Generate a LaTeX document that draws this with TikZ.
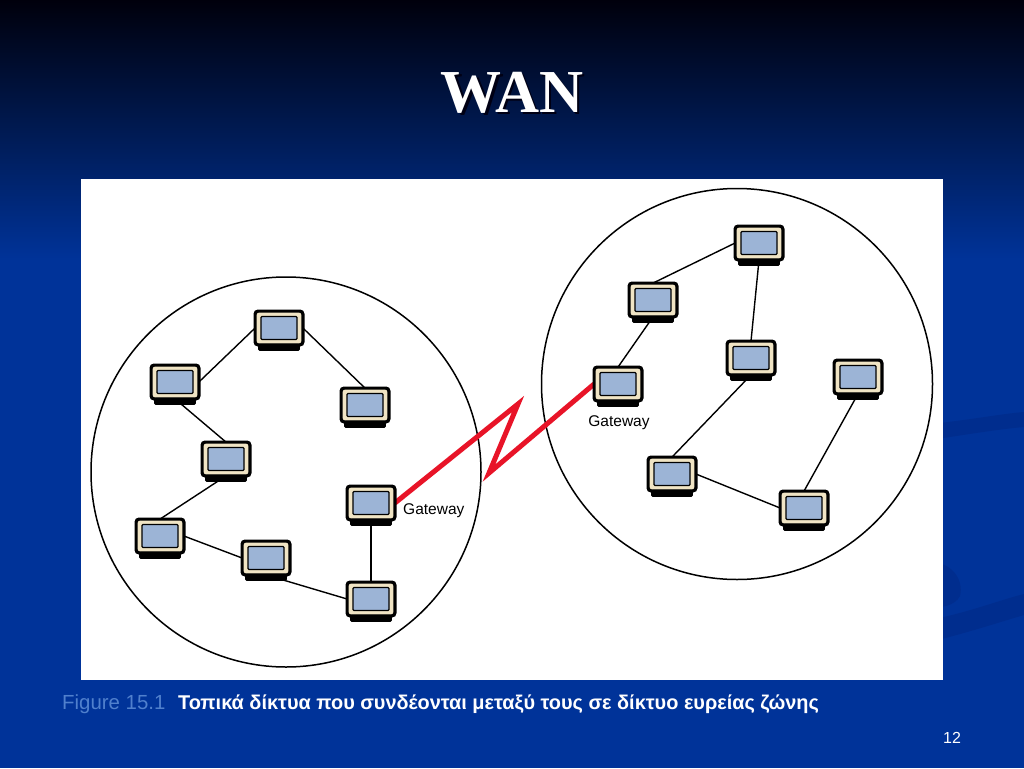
\documentclass[tikz,border=0pt]{standalone}
\usepackage{fontspec}
\setmainfont{Liberation Serif}
\newfontfamily\capfont{Liberation Sans}
\pgfdeclarelayer{back}
\pgfdeclarelayer{lines}
\pgfsetlayers{back,lines,main}
\definecolor{bgblue}{RGB}{0,51,153}
\definecolor{topblack}{RGB}{0,0,12}
\definecolor{midblue}{RGB}{0,26,82}
\definecolor{swoosh}{RGB}{0,45,142}
\definecolor{beige}{RGB}{240,228,196}
\definecolor{screenblue}{RGB}{156,180,214}
\definecolor{wanred}{RGB}{232,20,40}
\definecolor{figblue}{RGB}{80,128,205}
\definecolor{shadowc}{RGB}{0,0,20}
\tikzset{
  pcnode/.style={rectangle, rounded corners=3pt, draw=black, line width=3.2pt,
    fill=beige, minimum width=47.8pt, minimum height=33.8pt, inner sep=0pt, outer sep=0pt,
    path picture={\filldraw[fill=screenblue, draw=black, line width=1.3pt, rounded corners=1pt]
      ($(path picture bounding box.center)+(-18,-11.5)$) rectangle ++(36,23);}},
  link/.style={line width=1.4pt, draw=black},
  lan/.style={line width=1.5pt, draw=black},
  gwlabel/.style={font=\capfont\fontsize{15.5}{18}\selectfont, text=black, inner sep=0pt},
}
\usetikzlibrary{calc}
\begin{document}
\begin{tikzpicture}[x=1pt,y=-1pt]
\useasboundingbox (0,0) rectangle (1024,768);
\begin{pgfonlayer}{back}
  \fill[bgblue] (0,0) rectangle (1024,768);
  \shade[top color=topblack, bottom color=bgblue, middle color=midblue] (0,0) rectangle (1024,260);
  % faint swooshes
  \fill[swoosh] (930,424) .. controls (970,420) and (1000,414) .. (1024,412) -- (1024,427) .. controls (1000,429) and (970,434) .. (930,440) -- cycle;
  \fill[swoosh] (930,620) .. controls (970,612) and (1000,600) .. (1024,594) -- (1024,615) .. controls (1000,622) and (970,632) .. (930,642) -- cycle;
  \fill[swoosh] (930,562) .. controls (952,562) and (964,580) .. (960,596) .. controls (955,606) and (940,608) .. (930,608) -- cycle;
  % white panel
  \fill[white] (81,179) rectangle (943,680);
  % LAN circles
  \draw[lan] (286,472) circle (195);
  \draw[lan] (737,384) circle (195.5);
\end{pgfonlayer}

% left LAN
\node[pcnode] (L1) at (279,328) {};
\node[pcnode] (L2) at (175,382) {};
\node[pcnode] (L3) at (365,405) {};
\node[pcnode] (L4) at (226,459) {};
\node[pcnode] (L5) at (371,503) {};
\node[pcnode] (L6) at (160,536) {};
\node[pcnode] (L7) at (266,558) {};
\node[pcnode] (L8) at (371,599) {};
% right LAN
\node[pcnode] (R1) at (759,243) {};
\node[pcnode] (R2) at (653,300) {};
\node[pcnode] (R3) at (618,384) {};
\node[pcnode] (R4) at (751,358) {};
\node[pcnode] (R5) at (858,377) {};
\node[pcnode] (R6) at (672,474) {};
\node[pcnode] (R7) at (804,508) {};

\foreach \n in {L1,L2,L3,L4,L5,L6,L7,L8,R1,R2,R3,R4,R5,R6,R7}
  \fill[black, rounded corners=1.5pt] ([xshift=3pt,yshift=1pt]\n.south west) rectangle ([xshift=-3pt,yshift=-6pt]\n.south east);

\node[gwlabel, anchor=west] (gwl) at (403,511) {Gateway};
\node[gwlabel] (gwr) at (619,423) {Gateway};

\coordinate (z1) at (518,404);
\coordinate (z2) at (489,473);

\begin{pgfonlayer}{lines}
  \draw[link] (L1.west) -- (L2.east);
  \draw[link] (L1.east) -- (L3.north);
  \draw[link] (L2.south) -- (L4.north);
  \draw[link] (L4.south) -- (L6.north);
  \draw[link] (L6.east) -- (L7.west);
  \draw[link] (L7.south) -- (L8.west);
  \draw[link] (L5.south) -- (L8.north);
  \draw[link] (R1.west) -- (R2.north);
  \draw[link] (R1.south) -- (R4.north);
  \draw[link] (R2.south) -- (R3.north);
  \draw[link] (R4.south) -- (R6.north);
  \draw[link] (R6.east) -- (R7.west);
  \draw[link] (R7.north) -- (R5.south);
  \draw[wanred, line width=5pt, miter limit=10] (L5.east) -- (z1) -- (z2) -- (R3.west);
\end{pgfonlayer}

% title (with drop shadow in the same node)
\node[text=white, font=\bfseries\fontsize{61}{68}\selectfont, inner sep=0pt] (title) at (512,94)
  {\rlap{\hspace{2.5pt}\raisebox{-2.5pt}{\textcolor{shadowc}{WAN}}}WAN};

% caption
\node[anchor=base west, inner sep=0pt, text=figblue, font=\capfont\fontsize{20.4}{22}\selectfont] (figlab) at (62,709) {Figure 15.1};
\node[anchor=base west, inner sep=0pt, text=white, font=\capfont\bfseries\fontsize{19.9}{22}\selectfont] (figcap) at (178,709) {Τοπικά δίκτυα που συνδέονται μεταξύ τους σε δίκτυο ευρείας ζώνης};

\node[text=white, font=\capfont\fontsize{16}{18}\selectfont] (pagenum) at (952,738) {12};
\end{tikzpicture}
\end{document}
